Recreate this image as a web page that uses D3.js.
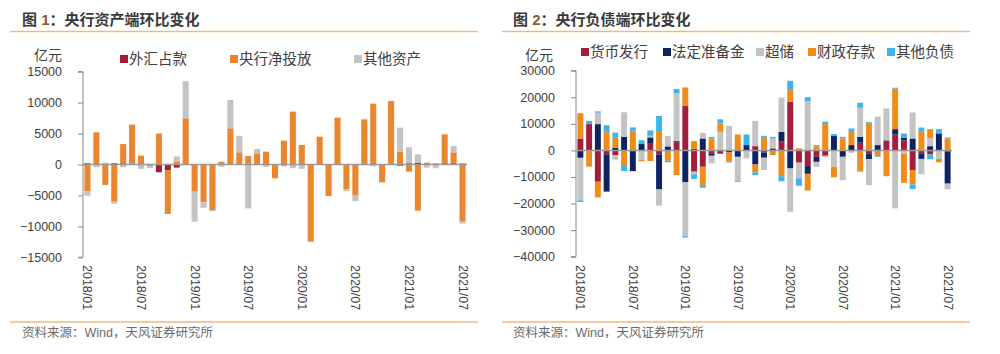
<!DOCTYPE html>
<html>
<head>
<meta charset="utf-8">
<script src="https://cdn.jsdelivr.net/npm/d3@7"></script>
<style>
  body { margin: 0; background: #fff; }
  svg { display: block; font-family: "Liberation Sans", Arial, "Noto Sans CJK SC", sans-serif; }
</style>
</head>
<body>
<svg id="chart" width="1000" height="354"></svg>
<script>
// ── categories ───────────────────────────────────────────────────────────────
const months = [
  "2018/01","2018/02","2018/03","2018/04","2018/05","2018/06","2018/07","2018/08","2018/09","2018/10","2018/11","2018/12",
  "2019/01","2019/02","2019/03","2019/04","2019/05","2019/06","2019/07","2019/08","2019/09","2019/10","2019/11","2019/12",
  "2020/01","2020/02","2020/03","2020/04","2020/05","2020/06","2020/07","2020/08","2020/09","2020/10","2020/11","2020/12",
  "2021/01","2021/02","2021/03","2021/04","2021/05","2021/06","2021/07"
];
const shownLabels = ["2018/01","2018/07","2019/01","2019/07","2020/01","2020/07","2021/01","2021/07"];

// ── 图1 资产端 (亿元) ─────────────────────────────────────────────────────────
const fxHoldings = [200,0,0,200,200,0,0,0,-1250,-950,-500,0,0,0,0,0,0,0,0,0,0,0,0,0,0,0,0,0,0,0,0,0,0,0,0,-200,200,300,0,150,200,200,150];
const netInjection = [-4300,5200,-3300,-6000,3100,6450,1430,-300,5000,-7050,500,7470,-4400,-6100,-7350,450,5850,1970,1370,1700,2075,-2240,3850,8540,3150,-12480,4500,-5090,7570,-3960,-4930,7300,9840,-2880,10270,2075,-1150,-7460,300,0,4680,1770,-9240];
const otherAssets = [-750,-450,300,-350,-450,0,-700,-300,0,0,800,6000,-4850,-900,-200,-350,4580,2650,-7100,800,-400,0,-300,-600,-700,0,0,0,0,-300,-970,0,-300,0,0,3880,2570,1340,-500,-600,0,1030,-300];

// ── 图2 负债端 (亿元) ─────────────────────────────────────────────────────────
const currencyIssue = [4500,9900,-11800,-1500,-1750,0,0,0,2500,-1500,0,3100,16700,-8000,-6150,-1100,-1250,0,0,0,1600,-750,0,3500,18300,-4600,-5900,-2400,-2000,0,0,0,2900,-1400,0,3250,6000,3750,-7400,-1100,-1500,0,-300];
const requiredReserve = [-2800,0,9900,-14000,1000,5150,-7800,2400,2400,-13200,1500,400,-12000,500,4500,-900,0,-750,-2400,2000,-5300,-2000,750,3500,-6800,300,-2900,-1900,0,5400,-2400,2000,2250,-1900,2000,500,2000,1100,4500,-2100,1600,6400,-12200];
const excessReserve = [-16000,0,4300,0,-1750,9200,0,-3600,600,-6100,3900,18000,-20300,-1000,2100,-2900,7000,9200,-9200,-3000,9500,-4600,3750,12900,-16300,-5900,18600,-1900,-600,-6150,-8800,-900,10900,-9800,10700,12000,-21800,-1200,9800,-5800,2900,-3250,-2100];
const fiscalDeposit = [9500,-6100,-5900,7000,3800,-5500,7400,-500,-4000,7000,-3900,-9300,7000,3000,-6900,4500,3100,-3500,6000,0,-3000,5100,-1750,-9700,4400,500,-6300,1600,9900,-4000,4500,5000,-8000,10400,-2100,-9300,15300,-11000,-5400,7000,3500,-1250,4500];
const otherLiab = [-600,1200,500,2500,1900,-2250,1250,1400,2000,6000,-600,1600,-500,-1750,-1000,600,1600,-300,-300,4000,-1000,400,600,-1900,3500,-2800,1400,400,900,750,600,1250,1900,300,-300,-400,300,1500,-1750,1600,-1750,1600,400];

const panel1Series = [
  { name: "外汇占款", values: fxHoldings, color: "#A51D3D" },
  { name: "央行净投放", values: netInjection, color: "#EA8630" },
  { name: "其他资产", values: otherAssets, color: "#C3C3C3" }
];
const panel2Series = [
  { name: "货币发行", values: currencyIssue, color: "#A51D3D" },
  { name: "法定准备金", values: requiredReserve, color: "#0E2461" },
  { name: "超储", values: excessReserve, color: "#C3C3C3" },
  { name: "财政存款", values: fiscalDeposit, color: "#F28C18" },
  { name: "其他负债", values: otherLiab, color: "#3DB5EB" }
];

const svg = d3.select("#chart");

function drawPanel(cfg) {
  const g = svg.append("g");

  // title + rules
  const title = g.append("text").attr("x", cfg.titleX).attr("y", 25).attr("font-size", 15).attr("font-weight", "bold").attr("fill", "#3a3a3a");
  title.append("tspan").text("图 ");
  title.append("tspan").attr("fill", "#8a5a3a").text(cfg.num);
  title.append("tspan").text("：" + cfg.title);
  g.append("line").attr("x1", cfg.ruleX[0]).attr("x2", cfg.ruleX[1]).attr("y1", 31.5).attr("y2", 31.5).attr("stroke", "#F5B67A").attr("stroke-width", 1.5);
  g.append("line").attr("x1", cfg.ruleX[0]).attr("x2", cfg.ruleX[1]).attr("y1", 322).attr("y2", 322).attr("stroke", "#F5B67A").attr("stroke-width", 1.5);
  g.append("text").attr("x", cfg.titleX).attr("y", 337).attr("font-size", 12.5).attr("fill", "#6b6b6b").text("资料来源：Wind，天风证券研究所");

  const x = d3.scaleBand().domain(months).range(cfg.xRange).paddingInner(0.32).paddingOuter(0.16);
  const y = d3.scaleLinear().domain(cfg.yDomain).range(cfg.yRange);

  const rows = months.map((m, i) => {
    const r = { month: m };
    cfg.series.forEach(s => { r[s.name] = s.values[i]; });
    return r;
  });
  const stacked = d3.stack().keys(cfg.series.map(s => s.name)).offset(d3.stackOffsetDiverging)(rows);

  const colorOf = Object.fromEntries(cfg.series.map(s => [s.name, s.color]));
  g.append("g").selectAll("g").data(stacked).join("g").attr("fill", d => colorOf[d.key])
    .selectAll("rect").data(d => d).join("rect")
    .attr("x", d => x(d.data.month))
    .attr("width", x.bandwidth())
    .attr("y", d => y(Math.max(d[0], d[1])))
    .attr("height", d => Math.abs(y(d[0]) - y(d[1])));

  // zero line
  g.append("line").attr("x1", cfg.xRange[0]).attr("x2", cfg.xRange[1]).attr("y1", y(0)).attr("y2", y(0)).attr("stroke", "#9a9a9a").attr("stroke-width", 1.5);

  // y axis
  const yAxis = g.append("g").attr("transform", `translate(${cfg.xRange[0]},0)`)
    .call(d3.axisLeft(y).tickValues(cfg.yTicks).tickSize(5).tickPadding(16).tickFormat(d3.format("d")));
  yAxis.select(".domain").attr("stroke", "#8a8a8a").attr("d", `M-5,${cfg.yRange[1]}H0V${cfg.yRange[0]}H-5`);
  yAxis.selectAll(".tick line").attr("stroke", "#8a8a8a");
  yAxis.selectAll("text").attr("font-size", 12.5).attr("fill", "#404040").attr("font-family", "\"Liberation Sans\", Arial, sans-serif");

  // x labels (rotated, top-to-bottom)
  g.append("g").selectAll("text").data(shownLabels).join("text")
    .attr("transform", d => `translate(${x(d) + x.bandwidth() / 2 - 4},${cfg.xLabelY}) rotate(90)`)
    .attr("font-size", 12.5).attr("fill", "#404040").text(d => d);

  // unit + legend
  g.append("text").attr("x", cfg.unitPos[0]).attr("y", cfg.unitPos[1]).attr("font-size", 14).attr("fill", "#404040").text("亿元");
  cfg.series.forEach((s, i) => {
    const lx = cfg.legendX[i];
    g.append("rect").attr("x", lx).attr("y", cfg.legendY - 4).attr("width", 8).attr("height", 8).attr("fill", s.color);
    g.append("text").attr("x", lx + 9).attr("y", cfg.legendY + 5).attr("font-size", 14.5).attr("fill", "#404040").text(s.name);
  });
}

drawPanel({
  num: "1", title: "央行资产端环比变化", titleX: 22, ruleX: [10, 478],
  series: panel1Series,
  xRange: [83, 467], yDomain: [-15000, 15000], yRange: [257.3, 71.7],
  yTicks: [-15000, -10000, -5000, 0, 5000, 10000, 15000],
  xLabelY: 265, unitPos: [34, 60],
  legendX: [120, 230, 354], legendY: 59
});

drawPanel({
  num: "2", title: "央行负债端环比变化", titleX: 513, ruleX: [502, 970],
  series: panel2Series,
  xRange: [576, 952], yDomain: [-40000, 30000], yRange: [256.7, 70.7],
  yTicks: [-40000, -30000, -20000, -10000, 0, 10000, 20000, 30000],
  xLabelY: 265, unitPos: [525, 60],
  legendX: [581, 663, 756, 808, 887], legendY: 52
});
</script>
</body>
</html>
